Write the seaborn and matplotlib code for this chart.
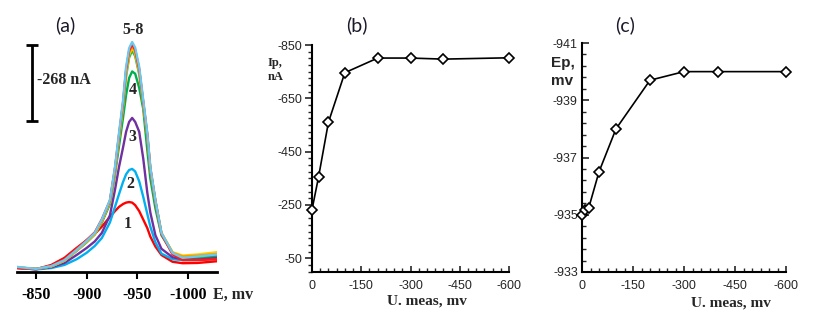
import numpy as np
import pandas as pd
import matplotlib
matplotlib.use("Agg")
import matplotlib.pyplot as plt
import seaborn as sns
from matplotlib.ticker import FixedLocator, MultipleLocator

sns.set_theme(style="white")
plt.rcParams['axes.unicode_minus'] = False

# ---------------- data: panel (a) voltammograms ----------------
E_mv = [-831, -850, -865, -878, -890, -900, -908, -915, -923, -928, -932, -936, -939,
        -942, -945, -948, -952, -956, -960, -963, -968, -974, -985, -995, -1010, -1029]
curve_1 = [14, 10, 25, 50, 85, 112, 135, 160, 195, 215, 230, 240, 245,
           247, 245, 236, 215, 185, 155, 125, 90, 60, 36, 31, 32, 38]
curve_2 = [15, 9, 14, 25, 45, 68, 92, 120, 175, 230, 275, 318, 345,
           360, 364, 355, 320, 265, 205, 160, 105, 65, 45, 42, 43, 48]
curve_3 = [15, 10, 17, 32, 60, 85, 108, 138, 200, 290, 371, 440, 495,
           530, 544, 530, 495, 400, 280, 210, 130, 82, 52, 45, 47, 52]
curve_4 = [16, 11, 20, 40, 75, 105, 133, 175, 240, 345, 445, 545, 625,
           685, 708, 700, 650, 575, 430, 330, 225, 130, 68, 52, 52, 58]
curve_5 = [16, 11, 20, 40, 75, 106, 133, 178, 244, 353, 467, 578, 690,
           757, 782, 762, 698, 587, 476, 361, 250, 137, 68, 55, 58, 66]
curve_6 = [16, 11, 20, 40, 76, 107, 134, 180, 247, 358, 474, 587, 700,
           767, 792, 772, 707, 594, 481, 364, 251, 138, 70, 58, 62, 70]
curve_7 = [16, 11, 20, 40, 76, 108, 135, 182, 250, 363, 480, 594, 708,
           775, 798, 778, 712, 598, 484, 366, 252, 137, 68, 55, 58, 64]
curve_8 = [14, 10, 22, 45, 82, 113, 140, 186, 252, 366, 484, 598, 714,
           781, 804, 784, 716, 600, 485, 366, 250, 134, 62, 42, 42, 45]
curve_9 = [18, 11, 21, 42, 78, 110, 138, 185, 254, 371, 491, 607, 724,
           790, 812, 792, 724, 607, 491, 371, 254, 138, 67, 50, 55, 62]
curves = [curve_1, curve_2, curve_3, curve_4, curve_5, curve_6, curve_7, curve_8, curve_9]
curve_colors = ["#FF0000", "#00B0F0", "#7030A0", "#00B050", "#2DB84D",
                "#FFD200", "#FF9A00", "#FF1A1A", "#6CC8EE"]
curve_labels = ["1", "2", "3", "4", "5-8"]
scale_bar_nA = 268

# ---------------- data: panel (b) ----------------
U_b = [0, -20, -50, -100, -200, -300, -400, -600]
Ip_b = [-232, -355, -560, -746, -801, -801, -797, -802]

# ---------------- data: panel (c) ----------------
U_c = [0, -10, -20, -50, -100, -200, -300, -400, -600]
Ep_c = [-935.0, -935.15, -935.25, -936.5, -938.0, -939.7, -940.0, -940.0, -940.0]

W, H = 816, 324
fig = plt.figure(figsize=(W / 100, H / 100), dpi=100)


def ax_at(l, r, t, b):
    return fig.add_axes([l / W, 1 - b / H, (r - l) / W, (b - t) / H])


serif = "Liberation Serif"
sans = "Liberation Sans"

# ---------------- panel (a) ----------------
axa = ax_at(17, 217, 10, 272)
rows = []
for i, c in enumerate(curves):
    for e, v in zip(E_mv, c):
        rows.append({"E": e, "I": v, "curve": str(i)})
dfa = pd.DataFrame(rows)
sns.lineplot(data=dfa, x="E", y="I", hue="curve", palette=curve_colors,
             sort=False, estimator=None, legend=False, lw=1.7, ax=axa)
axa.set_xlim(-831, -1029)
axa.set_ylim(0, 925)
for s in ["left", "right", "top"]:
    axa.spines[s].set_visible(False)
axa.spines["bottom"].set_color("black")
axa.spines["bottom"].set_linewidth(2)
axa.set_yticks([])
axa.set_xticks([-850, -900, -950, -1000])
axa.set_xticklabels(["-850", "-900", "-950", "-1000"])
for lab in axa.get_xticklabels():
    lab.set_fontfamily(serif)
    lab.set_fontweight("bold")
    lab.set_fontsize(11.5)
    lab.set_color("black")
axa.tick_params(axis="x", direction="out", length=5, width=1.5, color="black",
                pad=6, bottom=True)
axa.set_xlabel("")
axa.set_ylabel("")
axa.errorbar([-846], [667], yerr=[scale_bar_nA / 2], color="black", capsize=4.5,
             capthick=2, elinewidth=2)
axa.text(-851, 678, "-%d nA" % scale_bar_nA, fontfamily=serif, fontweight="bold",
         fontsize=11.5, va="center", ha="left")
lab_pos = [(-940.8, 169), (-942.8, 311), (-944.8, 477), (-945.8, 642), (-945.8, 854)]
for t, (x, y) in zip(curve_labels, lab_pos):
    axa.text(x, y, t, fontfamily=serif, fontweight="bold", fontsize=11.5,
             ha="center", va="center")
fig.text(213 / W, 1 - 295 / H, "E, mv", fontfamily=serif, fontweight="bold",
         fontsize=11.5, ha="left", va="center")
fig.text(65 / W, 1 - 25 / H, "(a)", fontfamily="Lato", fontsize=14,
         ha="center", va="center", color="#1a1a2a")

# ---------------- panel (b) ----------------
axb = ax_at(312, 509, 45, 271.5)
sns.lineplot(x=U_b, y=Ip_b, ax=axb, color="black", lw=1.2, marker="D",
             markersize=5.5, markerfacecolor="white", markeredgecolor="black",
             markeredgewidth=1.2, sort=False, clip_on=False, zorder=5)
axb.set_xlim(0, -600)
axb.set_ylim(0, -850)
axb.set_xticks([0, -150, -300, -450, -600])
axb.set_xticklabels(["0", "-150", "-300", "-450", "-600"])
axb.set_yticks([-850, -650, -450, -250, -50])
axb.set_yticklabels(["-850", "-650", "-450", "-250", "-50"])
axb.xaxis.set_minor_locator(MultipleLocator(25))
axb.yaxis.set_minor_locator(MultipleLocator(25))
axb.tick_params(axis="y", which="major", direction="out", length=5, width=1.2,
                left=True, labelsize=9, labelcolor="#262626", pad=2)
axb.tick_params(axis="y", which="minor", direction="out", length=3, width=1.0, left=True)
axb.tick_params(axis="x", which="major", direction="in", length=4, width=1.2,
                bottom=True, labelsize=9, labelcolor="#262626", pad=6)
axb.tick_params(axis="x", which="minor", direction="in", length=3, width=1.0, bottom=True)
for lab in axb.get_xticklabels() + axb.get_yticklabels():
    lab.set_fontfamily(sans)

# ---------------- panel (c) ----------------
axc = ax_at(582, 786, 43, 272)
sns.lineplot(x=U_c, y=Ep_c, ax=axc, color="black", lw=1.2, marker="D",
             markersize=5.5, markerfacecolor="white", markeredgecolor="black",
             markeredgewidth=1.2, sort=False, clip_on=False, zorder=5)
axc.set_xlim(0, -600)
axc.set_ylim(-933, -941)
axc.set_xticks([0, -150, -300, -450, -600])
axc.set_xticklabels(["0", "-150", "-300", "-450", "-600"])
axc.set_yticks([-941, -939, -937, -935, -933])
axc.set_yticklabels(["-941", "-939", "-937", "-935", "-933"])
axc.xaxis.set_minor_locator(MultipleLocator(25))
axc.yaxis.set_minor_locator(FixedLocator(np.linspace(-941, -933, 21)))
axc.tick_params(axis="y", which="major", direction="in", length=5, width=1.2,
                left=True, labelsize=9, labelcolor="#262626", pad=3)
axc.tick_params(axis="y", which="minor", direction="in", length=3, width=1.0, left=True)
axc.tick_params(axis="x", which="major", direction="in", length=4, width=1.2,
                bottom=True, labelsize=9, labelcolor="#262626", pad=6)
axc.tick_params(axis="x", which="minor", direction="in", length=3, width=1.0, bottom=True)
for lab in axc.get_xticklabels() + axc.get_yticklabels():
    lab.set_fontfamily(sans)

for ax in (axb, axc):
    for s in ["right", "top"]:
        ax.spines[s].set_visible(False)
    for s in ["left", "bottom"]:
        ax.spines[s].set_color("black")
        ax.spines[s].set_linewidth(1.5)
    ax.set_xlabel("")
    ax.set_ylabel("")

fig.text(268 / W, 1 - 70 / H, "Ip,\nnA", fontfamily=serif, fontweight="bold",
         fontsize=9, ha="left", va="center", linespacing=1.3)
fig.text(427 / W, 1 - 301 / H, "U. meas, mv", fontfamily=serif, fontweight="bold",
         fontsize=11, ha="center", va="center")
fig.text(357 / W, 1 - 25 / H, "(b)", fontfamily="Lato", fontsize=14,
         ha="center", va="center", color="#1a1a2a")

fig.text(551 / W, 1 - 72 / H, "Ep,\nmv", fontfamily=sans, fontweight="bold",
         fontsize=11, ha="left", va="center", linespacing=1.3)
fig.text(731 / W, 1 - 303 / H, "U. meas, mv", fontfamily=serif, fontweight="bold",
         fontsize=11, ha="center", va="center")
fig.text(625 / W, 1 - 25 / H, "(c)", fontfamily="Lato", fontsize=14,
         ha="center", va="center", color="#1a1a2a")

fig.savefig("out.png", dpi=100)
